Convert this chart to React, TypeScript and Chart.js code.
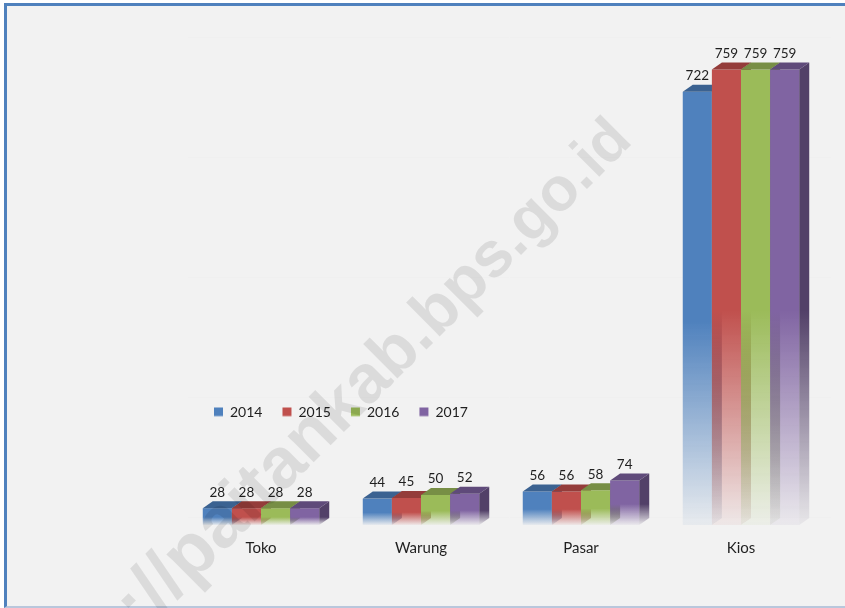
import React, { useEffect, useRef } from "react";
import { Chart, registerables } from "chart.js";

Chart.register(...registerables);

const categories = ["Toko", "Warung", "Pasar", "Kios"];
const years = ["2014", "2015", "2016", "2017"];
const values2014 = [28, 44, 56, 722];
const values2015 = [28, 45, 56, 759];
const values2016 = [28, 50, 58, 759];
const values2017 = [28, 52, 74, 759];
const seriesValues = [values2014, values2015, values2016, values2017];
const frontColors = ["#4f81bd", "#c0504d", "#9bbb59", "#8064a2"];
const topColors = ["#3b6291", "#943c3a", "#778e45", "#5f4a7a"];
const sideColors = ["#34557e", "#7f3331", "#64773a", "#524068"];
const watermark = "http://paitankab.bps.go.id";

const FONT = "Lato, 'Open Sans', sans-serif";
const DX = 10;
const DY = 7;

function alpha(hex: string, a: number) {
  const n = parseInt(hex.slice(1), 16);
  return `rgba(${(n >> 16) & 255},${(n >> 8) & 255},${n & 255},${a})`;
}

function fade(c: CanvasRenderingContext2D, y0: number, y1: number, color: string) {
  const g = c.createLinearGradient(0, y0, 0, y1);
  g.addColorStop(0, alpha(color, 1));
  g.addColorStop(0.53, alpha(color, 1));
  g.addColorStop(1, alpha(color, 0.06));
  return g;
}

function drawFaces(chart: any, i: number) {
  const { ctx } = chart;
  const meta = chart.getDatasetMeta(i);
  ctx.save();
  meta.data.forEach((bar: any) => {
    const l = bar.x - bar.width / 2;
    const r = bar.x + bar.width / 2;
    const t = bar.y;
    const b = bar.base;
    ctx.fillStyle = topColors[i];
    ctx.beginPath();
    ctx.moveTo(l, t);
    ctx.lineTo(l + DX, t - DY);
    ctx.lineTo(r + DX, t - DY);
    ctx.lineTo(r, t);
    ctx.closePath();
    ctx.fill();
    ctx.fillStyle = fade(ctx, t, b, sideColors[i]);
    ctx.beginPath();
    ctx.moveTo(r, t);
    ctx.lineTo(r + DX, t - DY);
    ctx.lineTo(r + DX, b - DY);
    ctx.lineTo(r, b);
    ctx.closePath();
    ctx.fill();
  });
  ctx.restore();
}

const bar3d = {
  id: "bar3d",
  beforeLayout(chart: any) {
    const l = chart.legend;
    if (l && !l.__wrapped) {
      const fit = l.fit;
      l.fit = function () {
        fit.call(this);
        this.height = 0;
      };
      l.__wrapped = true;
    }
  },
  afterLayout(chart: any) {
    const l = chart.legend;
    if (!l) return;
    l.left = 194;
    l.right = 520;
    l.top = 385;
    l.bottom = 440;
  },
  beforeDatasetsDraw(chart: any) {
    const { ctx, scales } = chart;
    ctx.save();
    ctx.strokeStyle = "#f0f0f0";
    ctx.lineWidth = 1;
    scales.y.ticks.forEach((t: any) => {
      const y = Math.round(scales.y.getPixelForValue(t.value) - DY - 1) + 0.5;
      ctx.beginPath();
      ctx.moveTo(188, y);
      ctx.lineTo(831, y);
      ctx.stroke();
    });
    ctx.restore();
    // Series are painted left to right so each bar's side face sits behind the next bar.
    seriesValues.forEach((_, i) => {
      chart.getDatasetMeta(i).controller.draw();
      drawFaces(chart, i);
    });
    return false;
  },
  afterDraw(chart: any) {
    const { ctx } = chart;
    ctx.save();
    ctx.font = `13.5px ${FONT}`;
    ctx.fillStyle = "#1f1f1f";
    ctx.textAlign = "center";
    ctx.textBaseline = "middle";
    seriesValues.forEach((vals, i) => {
      chart.getDatasetMeta(i).data.forEach((bar: any, j: number) => {
        ctx.fillText(String(vals[j]), bar.x, bar.y - 16);
      });
    });
    ctx.restore();
    // Watermark in slight perspective: letters grow towards the start of the text.
    ctx.save();
    ctx.translate(634, 142);
    ctx.rotate((-45 * Math.PI) / 180);
    ctx.textAlign = "right";
    ctx.textBaseline = "alphabetic";
    ctx.fillStyle = "rgba(0,0,0,0.095)";
    let d = 0;
    for (let k = watermark.length - 1; k >= 0; k--) {
      const size = 60 + d * 0.024;
      ctx.font = `bold ${size}px 'Liberation Sans', Arial, sans-serif`;
      ctx.fillText(watermark[k], -d, 0);
      d += ctx.measureText(watermark[k]).width;
    }
    ctx.restore();
  },
};

export default function App() {
  const ref = useRef<HTMLCanvasElement>(null);
  useEffect(() => {
    const chart = new Chart(ref.current as HTMLCanvasElement, {
      type: "bar",
      data: {
        labels: categories,
        datasets: years.map((y, i) => ({
          label: y,
          data: seriesValues[i],
          borderWidth: 0,
          categoryPercentage: 0.728,
          barPercentage: 1,
          backgroundColor: (c: any) => {
            if (c.type !== "data" || !c.chart.scales.y) return frontColors[i];
            const sc = c.chart.scales.y;
            return fade(
              c.chart.ctx,
              sc.getPixelForValue(seriesValues[i][c.dataIndex]),
              sc.getPixelForValue(0),
              frontColors[i]
            );
          },
        })),
      },
      options: {
        responsive: false,
        animation: false,
        devicePixelRatio: 1,
        layout: { padding: { left: 181, right: 24, top: 45, bottom: 0 } },
        plugins: {
          title: { display: false },
          tooltip: { enabled: false },
          legend: {
            display: true,
            position: "top",
            align: "start",
            labels: {
              boxWidth: 9,
              boxHeight: 9,
              padding: 20,
              color: "#1f1f1f",
              font: { family: FONT, size: 14 },
              generateLabels: (chart: any) =>
                years.map((y, i) => {
                  const g = chart.ctx.createLinearGradient(0, 408, 0, 419);
                  g.addColorStop(0, alpha(frontColors[i], 1));
                  g.addColorStop(0.6, alpha(frontColors[i], 1));
                  g.addColorStop(1, alpha(frontColors[i], 0.15));
                  return {
                    text: y,
                    fillStyle: g,
                    strokeStyle: "transparent",
                    lineWidth: 0,
                    fontColor: "#1f1f1f",
                    hidden: false,
                    datasetIndex: i,
                  };
                }),
            },
          },
        },
        scales: {
          x: {
            grid: { display: false },
            border: { display: false },
            afterFit: (s: any) => {
              s.height = 83;
            },
            ticks: {
              color: "#1f1f1f",
              padding: 6,
              font: { family: FONT, size: 15 },
            },
          },
          y: {
            display: false,
            min: 0,
            max: 800,
            ticks: { stepSize: 200 },
          },
        },
      },
      plugins: [bar3d],
    } as any);
    return () => chart.destroy();
  }, []);
  return (
    <div style={{ position: "absolute", left: 0, top: 0, width: 845, height: 608, background: "#ffffff", overflow: "hidden" }}>
      <div
        style={{
          position: "absolute",
          left: 4,
          top: 3,
          width: 838,
          height: 600,
          background: "#f2f2f2",
          borderTop: "3px solid #4f81bd",
          borderLeft: "3px solid #4f81bd",
          borderBottom: "2px solid #b9c7dc",
        }}
      />
      <canvas ref={ref} width={845} height={608} style={{ position: "absolute", left: 0, top: 0, display: "block" }} />
    </div>
  );
}
